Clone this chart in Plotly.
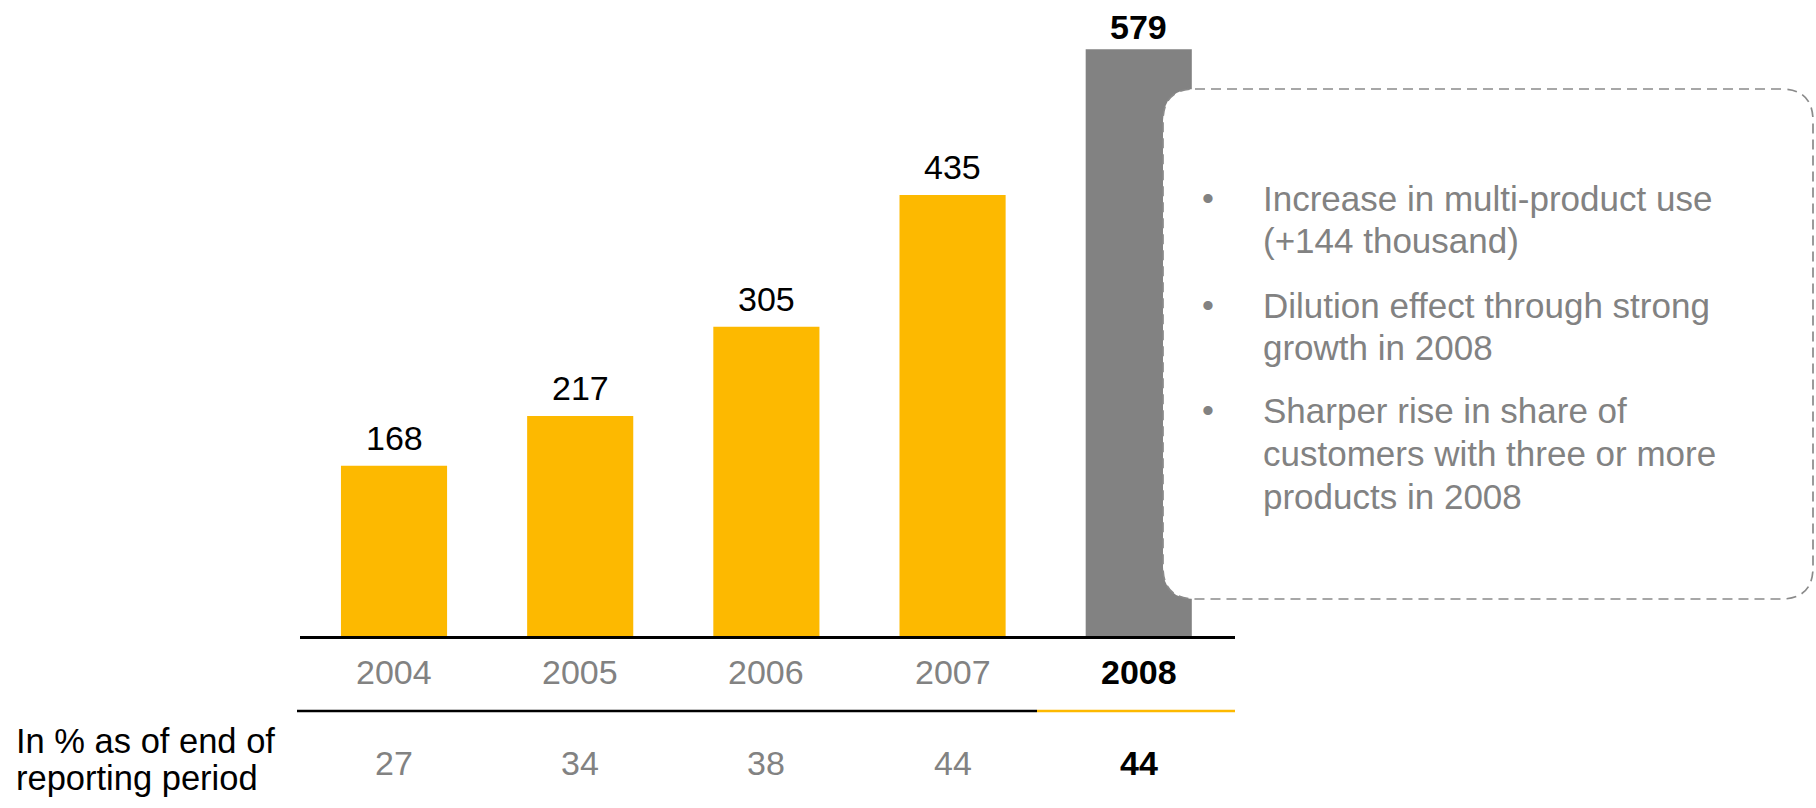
import plotly.graph_objects as go

# Customers using several products (thousand) and share in % at period end
years = ["2004", "2005", "2006", "2007", "2008"]
customers = [168, 217, 305, 435, 579]
share_pct = [27, 34, 38, 44, 44]
highlight_year = "2008"

row_label = ["In % as of end of", "reporting period"]
bullets = [
    ["Increase in multi-product use", "(+144 thousand)"],
    ["Dilution effect through strong", "growth in 2008"],
    ["Sharper rise in share of", "customers with three or more", "products in 2008"],
]

W, H = 1816, 808
FONT = "Liberation Sans, Arial, Helvetica, sans-serif"
YELLOW = "#FDB900"
GREY_BAR = "#828282"
GREY_TXT = "#828282"


def px(x):
    return x / W


def py(y):
    return 1 - y / H


is_hl = [y == highlight_year for y in years]
bar_colors = [GREY_BAR if h else YELLOW for h in is_hl]

fig = go.Figure(
    go.Bar(
        x=years,
        y=customers,
        marker=dict(color=bar_colors, line=dict(width=0)),
        width=0.57,
        hoverinfo="skip",
    )
)

annotations = []

# value labels above the bars
for i, (v, h) in enumerate(zip(customers, is_hl)):
    txt = f"<b>{v}</b>" if h else str(v)
    annotations.append(dict(
        x=i, y=v, xref="x", yref="y", text=txt, showarrow=False,
        yanchor="middle", yshift=22 if h else 28,
        font=dict(family=FONT, size=34, color="black"),
    ))

# year row and share row
for i, (yr, p, h) in enumerate(zip(years, share_pct, is_hl)):
    col = "black" if h else GREY_TXT
    annotations.append(dict(
        x=i, y=py(672), xref="x", yref="paper",
        text=f"<b>{yr}</b>" if h else yr, showarrow=False, yanchor="middle",
        font=dict(family=FONT, size=34, color=col),
    ))
    annotations.append(dict(
        x=i, y=py(763), xref="x", yref="paper",
        text=f"<b>{p}</b>" if h else str(p), showarrow=False, yanchor="middle",
        font=dict(family=FONT, size=34, color=col),
    ))

# row caption on the left
for i, line in enumerate(row_label):
    annotations.append(dict(
        x=px(14), y=py(741 + 37 * i), xref="paper", yref="paper",
        text=line, showarrow=False, xanchor="left", yanchor="middle",
        font=dict(family=FONT, size=34.5, color="black"),
    ))

# bullet list inside the callout box
para_top = [198, 305, 410]
for top, lines in zip(para_top, bullets):
    annotations.append(dict(
        x=px(1208), y=py(top), xref="paper", yref="paper",
        text="•", showarrow=False, xanchor="center", yanchor="middle",
        font=dict(family=FONT, size=34, color=GREY_TXT),
    ))
    for j, line in enumerate(lines):
        annotations.append(dict(
            x=px(1261), y=py(top + 43 * j), xref="paper", yref="paper",
            text=line, showarrow=False, xanchor="left", yanchor="middle",
            font=dict(family=FONT, size=35, color=GREY_TXT),
        ))

# rounded dashed callout box
x0, x1, y0, y1, r = 1163, 1813, 89, 599, 32
pts = [
    ("M", [(x0 + r, y0)]),
    ("L", [(x1 - r, y0)]),
    ("Q", [(x1, y0), (x1, y0 + r)]),
    ("L", [(x1, y1 - r)]),
    ("Q", [(x1, y1), (x1 - r, y1)]),
    ("L", [(x0 + r, y1)]),
    ("Q", [(x0, y1), (x0, y1 - r)]),
    ("L", [(x0, y0 + r)]),
    ("Q", [(x0, y0), (x0 + r, y0)]),
]
path = " ".join(
    cmd + " " + " ".join(f"{px(a):.5f},{py(b):.5f}" for a, b in p) for cmd, p in pts
) + " Z"

shapes = [
    dict(type="path", path=path, xref="paper", yref="paper", layer="above",
         fillcolor="white", line=dict(color="#8a8a8a", width=1.7, dash="10px,6px")),
    # rule below the year row: black, highlighted year in yellow
    dict(type="line", xref="paper", yref="paper", x0=px(297), x1=px(1037),
         y0=py(711), y1=py(711), line=dict(color="black", width=2.5)),
    dict(type="line", xref="paper", yref="paper", x0=px(1037), x1=px(1235),
         y0=py(711), y1=py(711), line=dict(color=YELLOW, width=2.5)),
]

fig.update_layout(
    width=W, height=H,
    margin=dict(l=0, r=0, t=0, b=0),
    paper_bgcolor="white", plot_bgcolor="white",
    showlegend=False,
    xaxis=dict(
        type="category",
        domain=[px(300), px(1235)], range=[-0.505, 4.517],
        showticklabels=False, ticks="", showgrid=False, zeroline=False,
        showline=True, linecolor="black", linewidth=2.5, fixedrange=True,
    ),
    yaxis=dict(
        domain=[py(636), 1], range=[0, 627.5], visible=False, fixedrange=True,
    ),
    annotations=annotations,
    shapes=shapes,
)

fig.write_html("out.html")
